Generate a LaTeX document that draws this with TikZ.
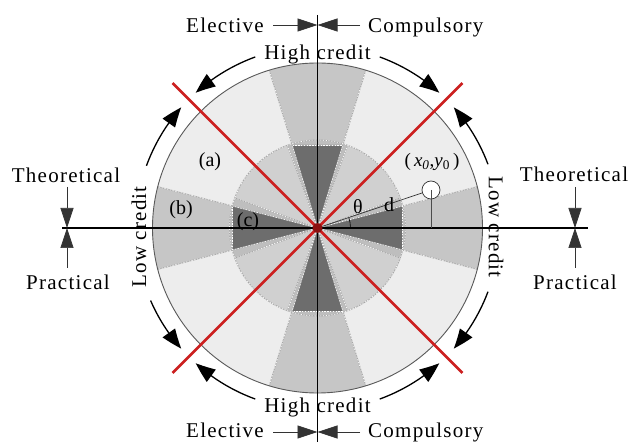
\documentclass[tikz,border=0pt]{standalone}
\usepackage{fontspec}
\usetikzlibrary{arrows.meta,bending}
\newfontfamily\lbl{Liberation Serif}[LetterSpace=6]
\newfontfamily\lblp{Liberation Serif}
\definecolor{cA}{HTML}{EDEDED}
\definecolor{cB}{HTML}{C6C6C6}
\definecolor{cI}{HTML}{BEBEBE}
\definecolor{cL}{HTML}{D0D0D0}
\definecolor{cD}{HTML}{6D6D6D}
\definecolor{redl}{HTML}{CC2020}
\definecolor{dotc}{HTML}{8B1010}
\tikzset{
  txt/.style={inner sep=0pt, font=\lbl\fontsize{21}{24}\selectfont},
  lab/.style={inner sep=0pt, font=\lblp\fontsize{20}{22}\selectfont},
  bd/.style={draw=white, line width=0.6pt, dash pattern=on 1.4pt off 1.4pt,
     preaction={draw=black!35, solid, line width=0.9pt}},
  axis/.style={draw=black, line width=1.1pt},
  redline/.style={draw=redl, line width=2.8pt},
  carc/.style={draw=black, line width=1.3pt, -{Triangle[length=20pt,width=15pt,bend]}},
  sarr/.style={draw=black!80, line width=0.7pt, -{Triangle[length=20pt,width=13pt]}},
}
\begin{document}
\begin{tikzpicture}[x=1pt,y=1pt]
\useasboundingbox (0,0) rectangle (630,442);
\fill[white] (0,0) rectangle (630,442);
\coordinate (C) at (317.5,214);
\begin{scope}[shift={(317.5,214)}]
  \fill[cA] (0,0) circle (165);
  \foreach \a/\w in {0/14.5,180/14.5,90/17,270/17}
    \fill[cB] (0,0) -- (\a-\w:165) arc[start angle=\a-\w, end angle=\a+\w, radius=165] -- cycle;
  \fill[cI] (0,0) circle (88);
  \foreach \a in {0,90,180,270}
    \fill[cL] (0,0) -- (\a+20:88) arc[start angle=\a+20, end angle=\a+70, radius=88] -- cycle;
  \foreach \a in {0,180}
    \fill[cD, rotate=\a] (0,0) -- (85,22) -- (85,-22) -- cycle;
  \foreach \a in {90,270}
    \fill[cD, rotate=\a] (0,0) -- (83,25) -- (83,-25) -- cycle;
  \foreach \a in {14.5,-14.5,165.5,194.5,73,107,253,287}
    \draw[bd] (0,0) -- (\a:165);
  \foreach \a in {20,70,110,160,200,250,290,340}
    \draw[bd] (0,0) -- (\a:88);
  \draw[bd] (0,0) circle (88);
  \foreach \a in {0,180}
    \draw[bd, rotate=\a] (85,22) -- (85,-22);
  \foreach \a in {90,270}
    \draw[bd, rotate=\a] (83,25) -- (83,-25);
  \draw[black!65, line width=0.9pt] (0,0) circle (165);
  % red diagonals
  \coordinate (r1) at (135:205);
  \coordinate (r2) at (-45:205);
  \coordinate (r3) at (45:205);
  \coordinate (r4) at (225:205);
  % curved arrows
  \draw[carc] (110:182) arc[start angle=110, end angle=132, radius=182];
  \draw[carc] (160:182) arc[start angle=160, end angle=138.5, radius=182];
  \draw[carc] (70:182) arc[start angle=70, end angle=48, radius=182];
  \draw[carc] (20.5:182) arc[start angle=20.5, end angle=41.5, radius=182];
  \draw[carc] (203.5:182) arc[start angle=203.5, end angle=221.5, radius=182];
  \draw[carc] (250:182) arc[start angle=250, end angle=228, radius=182];
  \draw[carc] (290:182) arc[start angle=290, end angle=312, radius=182];
  \draw[carc] (-20.5:182) arc[start angle=-20.5, end angle=-41.5, radius=182];
  % theta arc
  \draw[black, line width=0.6pt] (33,0) arc[start angle=0, end angle=18.5, radius=33];
\end{scope}
% axes
\coordinate (hL) at (62,214);
\coordinate (hR) at (588,214);
\coordinate (vT) at (317.5,427);
\coordinate (vB) at (317.5,0);
\draw[axis] (hL) -- (hR);
\draw[axis] (vT) -- (vB);
\draw[redline] (r1) -- (r2);
\draw[redline] (r3) -- (r4);
\node[circle, fill=dotc, minimum size=10pt, inner sep=0pt] (O) at (C) {};
% point (x0,y0)
\node[circle, draw=black!80, line width=0.7pt, fill=white, minimum size=18pt, inner sep=0pt] (P) at (431,252) {};
\coordinate (Pf) at (431,214);
\draw[black!70, line width=0.7pt] (P.center) -- (Pf);
\draw[black!80, line width=0.7pt] (O) -- (P);
% labels in the disc
\node[lab] (la) at (210,280) {(a)};
\node[lab] (lb) at (181,232) {(b)};
\node[lab] (lc) at (248,220) {(c)};
\node[lab] (lt) at (358,235) {θ};
\node[lab] (ld) at (389,237) {d};
\node[lab, font=\lblp\fontsize{19}{21}\selectfont] (lp) at (432,280) {(\,\textit{x}\textsubscript{\textit{0}},\textit{y}\textsubscript{0}\,)};
% ring texts
\node[txt, anchor=base] (hct) at (317.5,382) {High credit};
\node[txt, anchor=base] (hcb) at (317.5,29) {High credit};
\node[txt, rotate=90] (lcl) at (139,205) {Low credit};
\node[txt, rotate=-90] (lcr) at (496,215) {Low credit};
% top / bottom labels
\node[txt, anchor=base east] (et) at (264,409) {Elective};
\node[txt, anchor=base west] (ct) at (368,409) {Compulsory};
\node[txt, anchor=base east] (eb) at (264,4) {Elective};
\node[txt, anchor=base west] (cb) at (368,4) {Compulsory};
\coordinate (tT) at (317.5,417);
\coordinate (tB) at (317.5,10);
\coordinate (aTL) at (273,417);
\coordinate (aTR) at (360,417);
\coordinate (aBL) at (273,10);
\coordinate (aBR) at (360,10);
\draw[sarr] (aTL) -- (tT);
\draw[sarr] (aTR) -- (tT);
\draw[sarr] (aBL) -- (tB);
\draw[sarr] (aBR) -- (tB);
% side labels
\node[txt, anchor=base] (thl) at (66,259) {Theoretical};
\node[txt, anchor=base] (prl) at (68,152) {Practical};
\node[txt, anchor=base] (thr) at (574,260) {Theoretical};
\node[txt, anchor=base] (prr) at (575,152) {Practical};
\coordinate (tL) at (67,214);
\coordinate (tR) at (575,214);
\coordinate (aLT) at (67,255);
\coordinate (aLB) at (67,174);
\coordinate (aRT) at (575,255);
\coordinate (aRB) at (575,174);
\draw[sarr] (aLT) -- (tL);
\draw[sarr] (aLB) -- (tL);
\draw[sarr] (aRT) -- (tR);
\draw[sarr] (aRB) -- (tR);
\end{tikzpicture}
\end{document}
